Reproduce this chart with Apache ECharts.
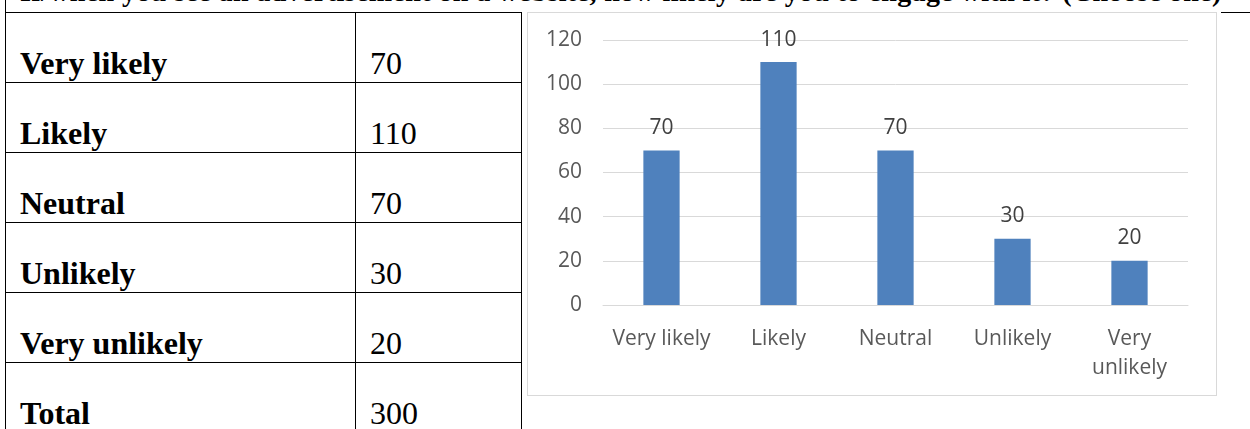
<!DOCTYPE html>
<html>
<head>
<meta charset="utf-8">
<script src="https://cdn.jsdelivr.net/npm/echarts@6/dist/echarts.min.js"></script>
<style>
  html, body { margin: 0; padding: 0; background: #fff; width: 1250px; height: 429px; overflow: hidden; position: relative; }
  .heading {
    position: absolute; left: 20px; top: -22px; white-space: nowrap; letter-spacing: 0.4px;
    font: bold 28px/28px "Liberation Serif", "Times New Roman", serif; color: #000;
  }
  .vline { position: absolute; left: 5px; top: 0; width: 1px; height: 429px; background: #000; }
  .hline { position: absolute; left: 1221px; top: 12px; width: 29px; height: 1px; background: #000; }
  table.summary {
    position: absolute; left: 5px; top: 12px; border-collapse: collapse;
    font-family: "Liberation Serif", "Times New Roman", serif; font-size: 32px; color: #000;
  }
  table.summary td {
    border: 1px solid #000; height: 70px; padding: 0 0 2px 14px; line-height: 34px;
    vertical-align: bottom; box-sizing: border-box;
  }
  table.summary td.name { width: 350px; font-weight: bold; }
  table.summary td.val { width: 166px; }
  #chart {
    position: absolute; left: 527px; top: 12px; width: 688px; height: 382px;
    border: 1px solid #d9d9d9;
  }
</style>
</head>
<body>
<div class="heading">If/when you see an advertisement on a website, how likely are you to engage with it? (Choose one)</div>
<div class="vline"></div>
<div class="hline"></div>
<table class="summary" id="summary"></table>
<div id="chart"></div>
<script>
// Survey responses: likelihood of engaging
const categories = ['Very likely', 'Likely', 'Neutral', 'Unlikely', 'Very unlikely'];
const counts = [70, 110, 70, 30, 20];
const totalLabel = 'Total';
const totalCount = 300;

// Summary table on the left
const tbl = document.getElementById('summary');
const rows = categories.map((c, i) => [c, counts[i]]).concat([[totalLabel, totalCount]]);
rows.forEach(([name, v]) => {
  const tr = document.createElement('tr');
  const a = document.createElement('td'); a.className = 'name'; a.textContent = name;
  const b = document.createElement('td'); b.className = 'val'; b.textContent = v;
  tr.appendChild(a); tr.appendChild(b); tbl.appendChild(tr);
});

// Column chart on the right
const chart = echarts.init(document.getElementById('chart'), null, { renderer: 'canvas' });
const font = '"Open Sans", "Noto Sans", sans-serif';
chart.setOption({
  animation: false,
  backgroundColor: '#fff',
  grid: { left: 75, right: 28, top: 27, bottom: 90, containLabel: false },
  xAxis: {
    type: 'category',
    data: categories,
    axisTick: { show: false },
    axisLine: { lineStyle: { color: '#d9d9d9', width: 1 } },
    axisLabel: {
      color: '#595959', fontFamily: font, fontSize: 21, margin: 20, lineHeight: 29, interval: 0,
      formatter: v => v.length > 12 ? v.replace(' ', '\n') : v
    }
  },
  yAxis: {
    type: 'value', min: 0, max: 120, interval: 20,
    axisLine: { show: false }, axisTick: { show: false },
    splitLine: { lineStyle: { color: '#d9d9d9', width: 1 } },
    axisLabel: { color: '#595959', fontFamily: font, fontSize: 21, margin: 21 }
  },
  series: [{
    type: 'bar',
    data: counts,
    barWidth: '31%',
    itemStyle: { color: '#4f81bd' },
    label: { show: true, position: 'top', distance: 12, color: '#404040', fontFamily: font, fontSize: 21 }
  }]
});
</script>
</body>
</html>
